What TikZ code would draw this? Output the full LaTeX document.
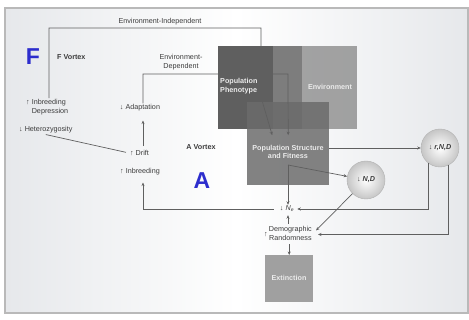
\documentclass[tikz,border=0pt]{standalone}
\usepackage{fontspec}
\setmainfont{Liberation Sans}
\usetikzlibrary{arrows.meta}
\definecolor{linec}{RGB}{95,95,95}
\definecolor{txtc}{RGB}{60,60,60}
\definecolor{phenc}{RGB}{95,95,95}
\definecolor{envc}{RGB}{135,135,135}
\definecolor{strc}{RGB}{107,107,107}
\definecolor{extc}{RGB}{160,160,160}
\definecolor{bluel}{RGB}{45,45,205}
\definecolor{bgc}{RGB}{230,232,235}
\begin{document}
\begin{tikzpicture}[x=1pt,y=-1pt,
  lbl/.style={font=\fontsize{7.2}{8.6}\selectfont, text=txtc, inner sep=1pt},
  boldlbl/.style={lbl, font=\bfseries\fontsize{7.2}{8.6}\selectfont},
  boxlbl/.style={font=\bfseries\fontsize{7.2}{8.6}\selectfont, text=white!92!black, inner sep=0pt},
  greybox/.style={minimum width=84pt, minimum height=83pt, inner sep=0pt, anchor=north west},
  conn/.style={draw=linec, line width=0.7pt},
  arr/.style={conn, -{Stealth[length=3.5pt,width=3pt]}},
  vball/.style={circle, minimum size=38pt, inner sep=0pt, draw=gray!60, inner color=white, outer color=gray!45, font=\bfseries\itshape\fontsize{7.2}{8.6}\selectfont, text=txtc},
  biglet/.style={font=\bfseries\fontsize{23}{23}\selectfont, text=bluel, inner sep=0pt}
]
\useasboundingbox (0,0) rectangle (469,320);
\fill[white] (0,0) rectangle (469,320);
\shade[left color=bgc, right color=bgc, middle color=white] (5,8) rectangle (468,313);
\draw[gray!55, line width=1.2pt] (5,8) rectangle (468,313);

% boxes
\node[greybox, fill=phenc] (phen) at (218,46) {};
\node[greybox, fill=envc, fill opacity=0.76] (env) at (273,46) {};
\node[greybox, minimum width=82pt, fill=strc, fill opacity=0.84] (struct) at (247,102) {};
\node[greybox, minimum width=48pt, minimum height=47pt, fill=extc] (ext) at (265,255) {};
\node[boxlbl, align=left, anchor=west] (phenl) at (220,86) {Population\\Phenotype};
\node[boxlbl] (envl) at (330,87) {Environment};
\node[boxlbl, align=center] (strl) at (288,152) {Population Structure\\and Fitness};
\node[boxlbl] (extl) at (289,278) {Extinction};

% labels
\node[lbl] (envind) at (160,21.5) {Environment-Independent};
\node[lbl, align=center] (envdep) at (181,62) {Environment-\\Dependent};
\node[boldlbl, anchor=west] (fvor) at (56,57) {F Vortex};
\node[boldlbl] (avor) at (201,147) {A Vortex};
\node[biglet] (F) at (33,57) {F};
\node[biglet] (A) at (202,180.5) {A};
\node[lbl, align=left, anchor=west] (inbdep) at (25,107) {↑ Inbreeding\\\phantom{↑ }Depression};
\node[lbl, anchor=west] (het) at (18,130) {↓ Heterozygosity};
\node[lbl] (adapt) at (140,108) {↓ Adaptation};
\node[lbl] (drift) at (139.5,153) {↑ Drift};
\node[lbl] (inbr) at (140,172) {↑ Inbreeding};
\node[lbl] (ne) at (287,209) {↓ \textit{N}\textsubscript{\textit{e}}};
\node[lbl] (demo) at (288,234.5) {↑\,\begin{tabular}{@{}c@{}}Demographic\\Randomness\end{tabular}};
\node[vball] (nd) at (366,180) {{\upshape↓} N,D};
\node[vball] (rnd) at (440,148) {{\upshape↓} r,N,D};

% connectors
\coordinate (eiL) at (49,28);
\coordinate (eiR) at (261,28);
\coordinate (eiB) at (261,97);
\draw[arr] (inbdep.north -| eiL) -- (eiL) -- (eiR) -- (eiB) -- ([xshift=-16pt,yshift=8.5pt]struct.center);
\coordinate (edL) at (143,74);
\coordinate (edR) at (288,74);
\draw[arr] (adapt.north -| edL) -- (edL) -- (edR) -- ([yshift=8.5pt]struct.center);
\draw[arr, shorten <=3pt, shorten >=8pt] (drift.north -| edL) -- (adapt.south -| edL);
\draw[conn, shorten >=3pt] (het.south) -- (drift.west);
\draw[arr, shorten <=5pt, shorten >=6pt] (ne.west) -| (inbr.south -| edL);
\coordinate (sp) at (288,165);
\draw[arr] (sp) -- (nd);
\draw[arr] (sp) -- (sp |- ne.north);
\draw[arr] (struct.east |- rnd.west) -- (rnd.west);
\draw[arr, shorten >=2pt] (rnd.-129) |- (ne.east);
\draw[arr, shorten >=5pt] (rnd.-65) |- (demo.east);
\draw[arr] (nd) -- ([shift={(3pt,4pt)}]demo.east);
\draw[arr, shorten <=1pt, shorten >=2pt] (demo.north -| sp) -- (ne.south -| sp);
\draw[arr] (demo.south -| ext) -- (ext.north);
\end{tikzpicture}
\end{document}
